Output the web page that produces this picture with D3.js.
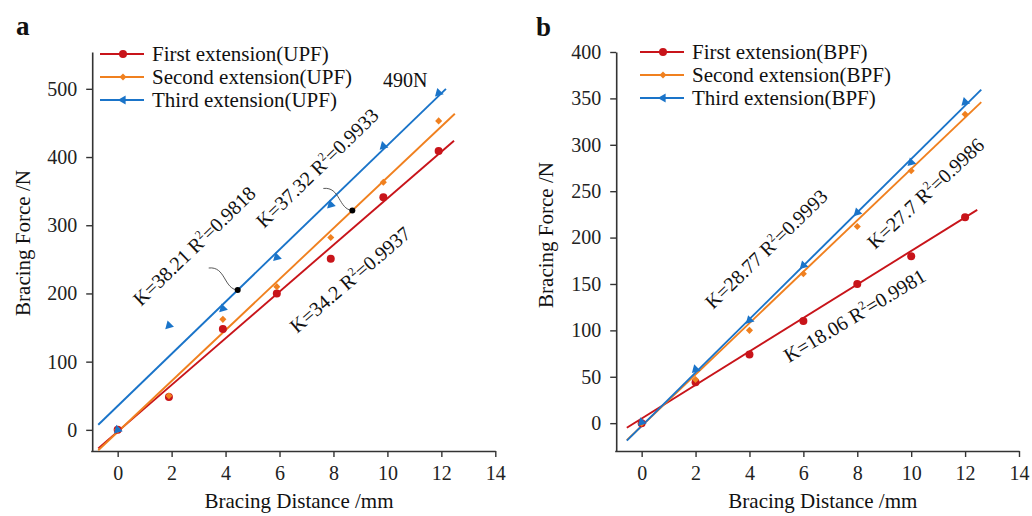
<!DOCTYPE html>
<html>
<head>
<meta charset="utf-8">
<script src="https://cdn.jsdelivr.net/npm/d3@7"></script>
<style>
  body { margin: 0; background: #fff; }
  svg { display: block; font-family: "Liberation Serif", serif; }
</style>
</head>
<body>
<div id="chart"></div>
<script>
// ---- data ----
const seriesNames = ["First extension", "Second extension", "Third extension"];
const xTicks = [0, 2, 4, 6, 8, 10, 12, 14];

// panel a (UPF)
const distA = [0, 1.9, 3.9, 5.9, 7.9, 9.85, 11.9];
const firstUPF = [0, 48, 148, 200, 251, 341, 409];
const secondUPF = [0, 50, 162, 210, 282, 363, 453];
const thirdUPF = [0, 153, 178, 253, 330, 416, 494];
const slopesA = [34.2, 37.32, 38.21];
const interceptsA = [-2.5, -3, 35];
const r2A = ["0.9937", "0.9933", "0.9818"];
const yTicksA = [0, 100, 200, 300, 400, 500];

// panel b (BPF)
const distB = [0, 2, 4, 6, 8, 10, 12];
const firstBPF = [0, 44, 74, 110, 150, 180, 222];
const secondBPF = [0, 47, 100, 161, 212, 272, 333];
const thirdBPF = [1, 58, 111, 170, 227, 281, 346];
const slopesB = [18.06, 27.7, 28.77];
const interceptsB = [5, -3, -3];
const r2B = ["0.9981", "0.9986", "0.9993"];
const yTicksB = [0, 50, 100, 150, 200, 250, 300, 350, 400];

const colors = ["#c8141a", "#f0801f", "#1a74c9"];
const axisColor = "#333";

const svg = d3.select("#chart").append("svg")
    .attr("width", 1032)
    .attr("height", 516);

function marker(g, i, cx, cy, rot) {
    if (i === 0) {
        g.append("circle").attr("cx", cx).attr("cy", cy).attr("r", 4).attr("fill", colors[0]);
    } else if (i === 1) {
        g.append("path")
            .attr("d", d3.symbol(d3.symbolDiamond2, 32)())
            .attr("transform", `translate(${cx},${cy})`)
            .attr("fill", colors[1]);
    } else {
        g.append("path")
            .attr("d", d3.symbol(d3.symbolTriangle2, 58)())
            .attr("transform", `translate(${cx},${cy}) rotate(${rot})`)
            .attr("fill", colors[2]);
    }
}

function kLabel(g, slope, r2, px, py, angle) {
    const t = g.append("text")
        .attr("transform", `translate(${px},${py}) rotate(${angle})`)
        .attr("font-size", 20)
        .attr("fill", "#111");
    t.append("tspan").text(`K=${slope} R`);
    t.append("tspan").attr("font-size", 12).attr("dy", -8).text("2");
    t.append("tspan").attr("dy", 8).text(`=${r2}`);
}

function drawPanel(o) {
    const x = d3.scaleLinear().domain([-1, 14]).range(o.xRange);
    const y = d3.scaleLinear().domain(o.yDomain).range([451, 52]);
    const g = svg.append("g");

    // axes
    const ax = g.append("g")
        .attr("transform", `translate(0,${y(o.yDomain[0])})`)
        .call(d3.axisBottom(x).tickValues(xTicks).tickSize(6).tickSizeOuter(0).tickPadding(9));
    const ay = g.append("g")
        .attr("transform", `translate(${o.xRange[0] + 1.5},0)`)
        .call(d3.axisLeft(y).tickValues(o.yTicks).tickSize(6).tickSizeOuter(0).tickPadding(9));
    [ax, ay].forEach(a => {
        a.select(".domain").attr("stroke", axisColor).attr("stroke-width", 1.6);
        a.selectAll(".tick line").attr("stroke", axisColor).attr("stroke-width", 1.4);
        a.selectAll(".tick text")
            .attr("font-family", "Liberation Serif, serif")
            .attr("font-size", 20)
            .attr("fill", "#222");
    });

    // clip for fitted lines
    const clipId = "clip" + o.tag;
    svg.append("clipPath").attr("id", clipId)
        .append("rect")
        .attr("x", o.xRange[0]).attr("y", 40)
        .attr("width", o.xRange[1] - o.xRange[0] + 20)
        .attr("height", y(o.yDomain[0]) - 40);

    const line = d3.line().x(d => x(d[0])).y(d => y(d[1]));
    const plot = g.append("g");
    o.series.forEach((vals, i) => {
        const f = v => o.slopes[i] * v + o.intercepts[i];
        const x0 = o.fitStart, x1 = o.fitEnd[i];
        plot.append("path")
            .datum([[x0, f(x0)], [x1, f(x1)]])
            .attr("clip-path", `url(#${clipId})`)
            .attr("d", line)
            .attr("fill", "none")
            .attr("stroke", colors[i])
            .attr("stroke-width", 1.9);
    });
    o.series.forEach((vals, i) => {
        vals.forEach((v, j) => marker(plot, i, x(o.dist[j]), y(v), 225));
    });

    // legend
    const lg = g.append("g");
    seriesNames.forEach((name, i) => {
        const ly = o.legend[1] + i * 23;
        lg.append("line")
            .attr("x1", o.legend[0]).attr("x2", o.legend[0] + 44)
            .attr("y1", ly).attr("y2", ly)
            .attr("stroke", colors[i]).attr("stroke-width", 1.9);
        marker(lg, i, o.legend[0] + 23, ly, 270);
        lg.append("text")
            .attr("x", o.legend[0] + 52).attr("y", ly + 7)
            .attr("font-size", 21)
            .attr("fill", "#111")
            .text(`${name}(${o.tag})`);
    });

    // slope labels
    o.labels.forEach((p, i) => kLabel(g, o.slopes[i], o.r2[i], p[0], p[1], p[2]));

    // axis titles
    g.append("text")
        .attr("x", (o.xRange[0] + o.xRange[1]) / 2 + 6).attr("y", 508)
        .attr("text-anchor", "middle")
        .attr("font-size", 21).attr("fill", "#111")
        .text("Bracing Distance /mm");
    g.append("text")
        .attr("transform", `translate(${o.yTitle[0]},${o.yTitle[1]}) rotate(-90)`)
        .attr("text-anchor", "middle")
        .attr("font-size", 21).attr("fill", "#111")
        .text("Bracing Force /N");

    // panel letter
    g.append("text")
        .attr("x", o.letterPos[0]).attr("y", o.letterPos[1])
        .attr("font-size", 27).attr("font-weight", "bold").attr("fill", "#111")
        .text(o.letter);

    return { x, y, g };
}

const pa = drawPanel({
    tag: "UPF", letter: "a", letterPos: [16, 35],
    xRange: [90.7, 495.3], yDomain: [-31, 554], yTicks: yTicksA,
    dist: distA, series: [firstUPF, secondUPF, thirdUPF],
    slopes: slopesA, intercepts: interceptsA, r2: r2A,
    fitStart: -0.72, fitEnd: [12.47, 12.5, 12.17],
    legend: [100, 54],
    labels: [[297, 334, -40.5], [264, 229, -44], [141, 307, -44]],
    yTitle: [30, 243]
});

// black marks on fitted lines with curved leaders
const dotXs = [4.45, 8.7];
const dotSeries = [2, 1];
dotXs.forEach((dx, k) => {
    const i = dotSeries[k];
    const cx = pa.x(dx), cy = pa.y(slopesA[i] * dx + interceptsA[i]);
    pa.g.append("path")
        .attr("d", `M${cx - 29},${cy - 22} C${cx - 12},${cy - 24} ${cx - 14},${cy - 1} ${cx},${cy}`)
        .attr("fill", "none").attr("stroke", "#444").attr("stroke-width", 0.9);
    pa.g.append("circle").attr("cx", cx).attr("cy", cy).attr("r", 3).attr("fill", "#000");
});
pa.g.append("text")
    .attr("x", 383).attr("y", 87)
    .attr("font-size", 20).attr("fill", "#111")
    .text("490N");

drawPanel({
    tag: "BPF", letter: "b", letterPos: [536, 36],
    xRange: [614.7, 1019], yDomain: [-30, 400], yTicks: yTicksB,
    dist: distB, series: [firstBPF, secondBPF, thirdBPF],
    slopes: slopesB, intercepts: interceptsB, r2: r2B,
    fitStart: -0.55, fitEnd: [12.45, 12.6, 12.6],
    legend: [640, 52],
    labels: [[789, 363, -31], [875, 250, -43], [713, 310, -44]],
    yTitle: [553, 235]
});
</script>
</body>
</html>
